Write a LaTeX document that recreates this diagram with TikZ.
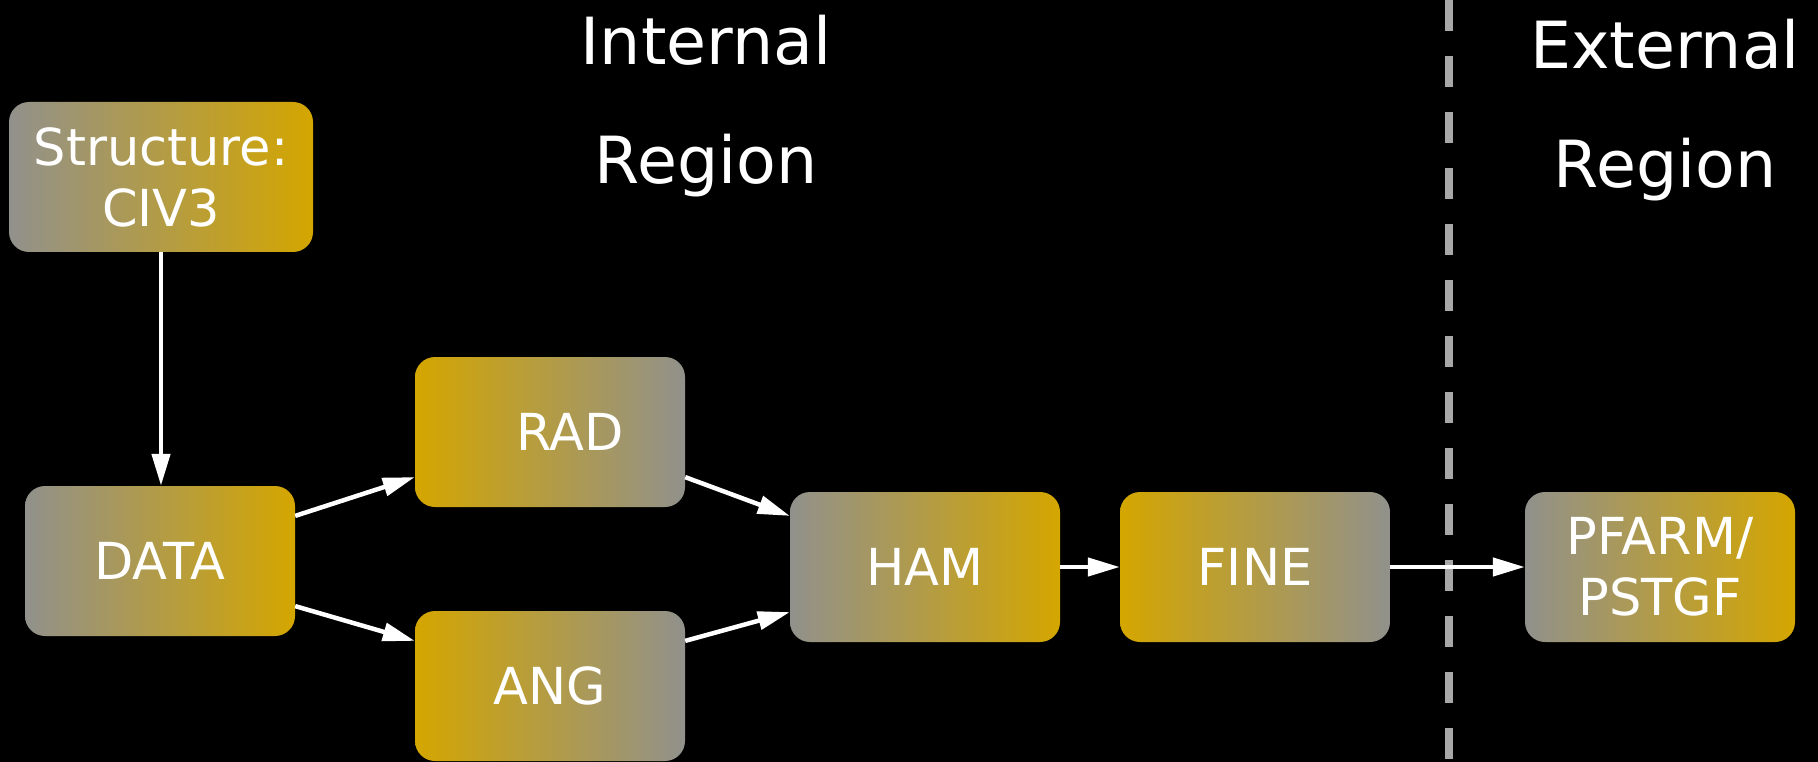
\documentclass[tikz,border=0pt]{standalone}
\usepackage{fontspec}
\setmainfont{DejaVu Sans}
\usetikzlibrary{arrows.meta,calc}

\definecolor{cgold}{RGB}{212,166,0}
\definecolor{cgray}{RGB}{145,145,140}
\definecolor{csep}{RGB}{168,168,168}

\newcommand{\boxfont}{\fontsize{51}{61}\selectfont}
\newcommand{\headfont}{\fontsize{65}{80}\selectfont}

\tikzset{
  stagebox/.style={rounded corners=20pt, minimum width=270pt, minimum height=150pt,
    inner sep=0pt, text=white, font=\boxfont, align=center},
  graygold/.style={left color=cgray, right color=cgold},
  goldgray/.style={left color=cgold, right color=cgray},
  link/.style={draw=white, line width=4.5pt, -{Triangle[length=32pt,width=18pt]}},
  heading/.style={text=white, font=\headfont, anchor=base, inner sep=0pt},
  separator/.style={draw=csep, line width=7.5pt, dash pattern=on 31pt off 25pt}
}

\begin{document}
\begin{tikzpicture}[x=1pt, y=-1pt]
  % canvas
  \useasboundingbox (0,0) rectangle (1818,762);
  \fill[black] (0,0) rectangle (1818,762);

  % boundary between the two regions
  \coordinate (septop) at (1449,0);
  \coordinate (sepbot) at (1449,762);
  \draw[separator] (septop) -- (sepbot);

  % region titles
  \node[heading] (inta) at (706,65) {Internal};
  \node[heading] (intb) at (706,184) {Region};
  \node[heading] (exta) at (1665,69) {External};
  \node[heading] (extb) at (1665,188) {Region};

  % processing stages
  \node[stagebox, graygold, minimum width=304pt] (struct) at (161,177) {Structure:\\CIV3};
  \node[stagebox, graygold] (data) at (160,561) {DATA};
  \node[stagebox, goldgray] (rad) at (550,432) {\hspace*{40pt}RAD};
  \node[stagebox, goldgray] (ang) at (550,686) {ANG};
  \node[stagebox, graygold] (ham) at (925,567) {HAM};
  \node[stagebox, goldgray] (fine) at (1255,567) {FINE};
  \node[stagebox, graygold] (pfarm) at (1660,567) {PFARM/\\PSTGF};

  % data flow
  \draw[link] (struct.south) -- (struct.south |- data.north);
  \draw[link] ($(data.north east)!0.2!(data.south east)$) -- ($(rad.north west)!0.8!(rad.south west)$);
  \draw[link] ($(data.north east)!0.8!(data.south east)$) -- ($(ang.north west)!0.2!(ang.south west)$);
  \draw[link] ($(rad.north east)!0.8!(rad.south east)$) -- ($(ham.north west)!0.16!(ham.south west)$);
  \draw[link] ($(ang.north east)!0.2!(ang.south east)$) -- ($(ham.north west)!0.8!(ham.south west)$);
  \draw[link] (ham.east) -- (fine.west);
  \draw[link] (fine.east) -- (pfarm.west);
\end{tikzpicture}
\end{document}
